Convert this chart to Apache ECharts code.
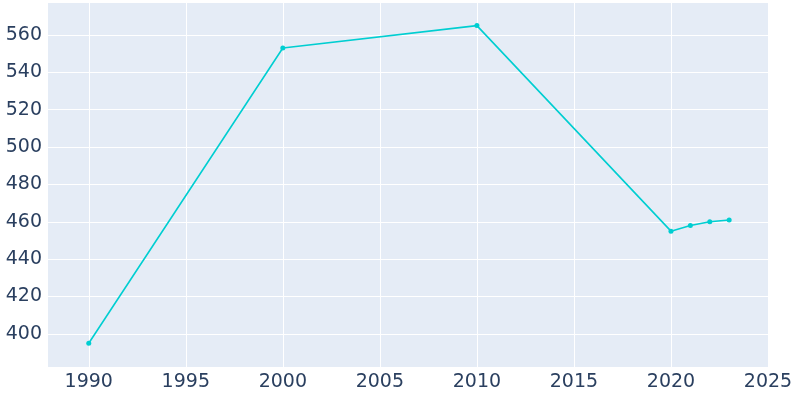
<!DOCTYPE html><html><head><meta charset="utf-8">
<script src="https://cdn.jsdelivr.net/npm/echarts@6/dist/echarts.min.js"></script>
<style>html,body{margin:0;padding:0}#c{width:800px;height:400px}</style></head><body><div id="c"></div>
<script>
const years=[1990,2000,2010,2020,2021,2022,2023];
const population=[395,553,565,455,458,460,461];
const xTicks=[1990,1995,2000,2005,2010,2015,2020,2025];
const yTicks=[400,420,440,460,480,500,520,540,560];
const font={color:'#2a3f5f',fontSize:19,fontFamily:'DejaVu Sans',formatter:v=>String(v)};
const ch=echarts.init(document.getElementById('c'));
ch.setOption({
 grid:{left:48,right:32,top:3,bottom:33,show:true,backgroundColor:'#e5ecf6',borderWidth:0},
 xAxis:{type:'value',min:1987.9,max:2025,
  axisLine:{show:false},axisTick:{show:false,customValues:xTicks},
  axisLabel:Object.assign({customValues:xTicks,margin:6},font),
  splitLine:{show:true,lineStyle:{color:'#fff',width:1}}},
 yAxis:{type:'value',min:382.3,max:577.1,
  axisLine:{show:false},axisTick:{show:false,customValues:yTicks},
  axisLabel:Object.assign({customValues:yTicks,margin:6},font),
  splitLine:{show:true,lineStyle:{color:'#fff',width:1}}},
 series:[{type:'line',data:years.map((y,i)=>[y,population[i]]),
  symbol:'circle',symbolSize:5,showSymbol:true,
  lineStyle:{color:'#00ced1',width:1.6},itemStyle:{color:'#00ced1'}}]
});
</script></body></html>
